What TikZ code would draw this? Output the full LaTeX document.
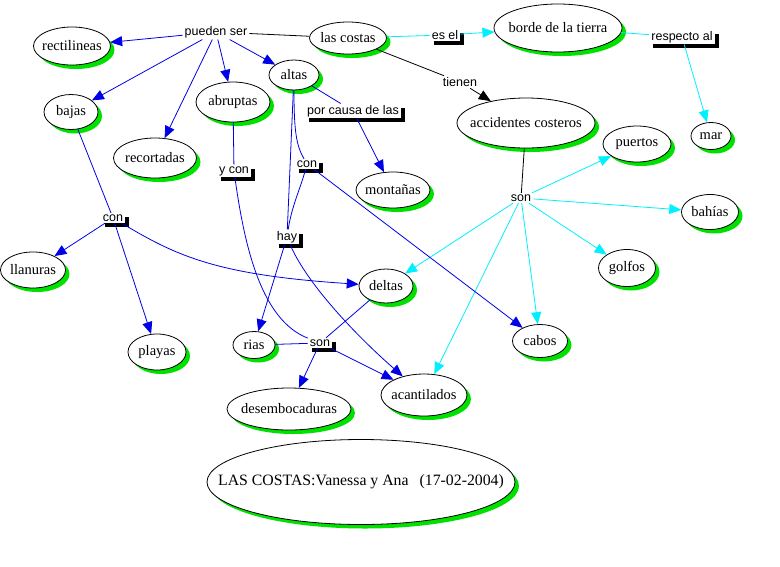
\documentclass[tikz,border=0pt]{standalone}
\usepackage{fontspec}
\setmainfont{Liberation Serif}
\setsansfont{Liberation Sans}
\usetikzlibrary{shapes.geometric,shadows,arrows.meta}
\definecolor{cgreen}{RGB}{0,225,0}
\definecolor{cblue}{RGB}{0,0,230}
\definecolor{ccyan}{RGB}{0,240,255}
\newcommand\ctext[1]{\makebox[0pt]{#1}}
\begin{document}
\begin{tikzpicture}[x=1pt,y=-1pt,
  concept/.style={ellipse, draw=black, line width=0.8pt, fill=white, inner sep=0pt,
    font=\fontsize{14.5}{16}\selectfont,
    general shadow={fill=cgreen, shadow xshift=4pt, shadow yshift=-4pt}},
  lnk/.style={font=\sffamily\fontsize{12.5}{14}\selectfont, inner xsep=2pt, inner ysep=1.5pt, fill=white},
  slnk/.style={lnk, general shadow={fill=black, shadow xshift=4pt, shadow yshift=-4pt}},
  tip/.style={-{Triangle[length=12pt,width=10pt]}},
  bl/.style={draw=cblue, line width=0.8pt},
  bla/.style={bl, tip, cblue},
  cy/.style={draw=ccyan, line width=0.8pt},
  cya/.style={cy, tip, ccyan},
  bk/.style={draw=black, line width=0.8pt},
  bka/.style={bk, tip}
]
\fill[white] (0,0) rectangle (780,566);
\useasboundingbox (0,0) rectangle (780,566);

% concepts
\node[concept, minimum width=77pt, minimum height=38pt] (rect) at (72,46) {\ctext{rectilineas}};
\node[concept, minimum width=54pt, minimum height=35pt] (bajas) at (71,112) {\ctext{bajas}};
\node[concept, minimum width=83pt, minimum height=40pt] (recort) at (155,158) {\ctext{recortadas}};
\node[concept, minimum width=74pt, minimum height=40pt] (abrup) at (233,102) {\ctext{abruptas}};
\node[concept, minimum width=50pt, minimum height=30pt] (altas) at (294,75) {\ctext{altas}};
\node[concept, minimum width=77pt, minimum height=32pt] (costas) at (348,38) {\ctext{las costas}};
\node[concept, minimum width=128pt, minimum height=48pt] (borde) at (558,28) {\ctext{borde de la tierra}};
\node[concept, minimum width=40pt, minimum height=27pt] (mar) at (711,136) {\ctext{mar}};
\node[concept, minimum width=138pt, minimum height=50pt] (accid) at (526,123) {\ctext{accidentes costeros}};
\node[concept, minimum width=68pt, minimum height=36pt] (puertos) at (637,144) {\ctext{puertos}};
\node[concept, minimum width=74pt, minimum height=36pt] (montanas) at (393,190) {\ctext{montañas}};
\node[concept, minimum width=65pt, minimum height=36pt] (llanuras) at (33,270) {\ctext{llanuras}};
\node[concept, minimum width=58pt, minimum height=36pt] (playas) at (157,352) {\ctext{playas}};
\node[concept, minimum width=42pt, minimum height=27pt] (rias) at (254,345) {\ctext{rias}};
\node[concept, minimum width=54pt, minimum height=34pt] (deltas) at (386,286) {\ctext{deltas}};
\node[concept, minimum width=124pt, minimum height=42pt] (desemb) at (289,409) {\ctext{desembocaduras}};
\node[concept, minimum width=86pt, minimum height=42pt] (acant) at (424,395) {\ctext{acantilados}};
\node[concept, minimum width=55pt, minimum height=33pt] (cabos) at (540,341) {\ctext{cabos}};
\node[concept, minimum width=57pt, minimum height=35pt] (bahias) at (710,212) {\ctext{bahías}};
\node[concept, minimum width=57pt, minimum height=37pt] (golfos) at (627,268) {\ctext{golfos}};
\node[concept, minimum width=308pt, minimum height=85pt, font=\fontsize{15.8}{18}\selectfont] (title) at (361,482) {\ctext{LAS COSTAS:Vanessa y Ana\hspace{11pt}(17-02-2004)}};

% linking phrases
\node[lnk] (pueden) at (216,32) {pueden ser};
\node[slnk] (esel) at (445,35) {es el};
\node[slnk] (respecto) at (682,37) {respecto al};
\node[lnk] (tienen) at (460,82) {tienen};
\node[lnk] (son1) at (521,198) {son};
\node[slnk] (porcausa) at (353,111) {por causa de las};
\node[slnk] (con2) at (307,164) {con};
\node[slnk] (ycon) at (234,171) {y con};
\node[slnk] (hay) at (287,237) {hay};
\node[slnk] (con1) at (113,218) {con};
\node[slnk] (son2) at (320,343) {son};

% connectors
\draw[bk] (costas) -- (pueden);
\draw[bla] (pueden) -- (rect);
\draw[bla] (pueden) -- (bajas);
\draw[bla] (pueden) -- (recort);
\draw[bla] (pueden) -- (abrup);
\draw[bla] (pueden) -- (altas);

\draw[cy] (costas) -- (esel);
\draw[cya] (esel) -- (borde);
\draw[cy] (borde) -- (respecto);
\draw[cya] (respecto) -- (mar);

\draw[bk] (costas) -- (tienen);
\draw[bka] (tienen) -- (accid);
\draw[bk] (accid) -- (son1);
\draw[cya] (son1) -- (puertos);
\draw[cya] (son1) -- (bahias);
\draw[cya] (son1) -- (golfos);
\draw[cya] (son1) -- (cabos);
\draw[cya] (son1) -- (acant);
\draw[cya] (son1) -- (deltas);

\draw[bl] (altas) -- (porcausa);
\draw[bla] (porcausa) -- (montanas);
\draw[bl] (altas) .. controls (294,130) and (296,145) .. (con2);
\draw[bl] (con2) .. controls (300,190) and (292,205) .. (hay);
\draw[bl] (altas) -- (hay);
\draw[bla] (con2) -- (cabos);

\draw[bl] (abrup) -- (ycon);
\draw[bl] (ycon) .. controls (245,250) and (262,320) .. (son2);

\draw[bla] (hay) -- (rias);
\draw[bla] (hay) .. controls (305,280) and (350,330) .. (acant);

\draw[bl] (son2) -- (rias);
\draw[bl] (son2) -- (deltas);
\draw[bla] (son2) -- (desemb);
\draw[bla] (son2) -- (acant);

\draw[bl] (bajas) -- (con1);
\draw[bla] (con1) -- (llanuras);
\draw[bla] (con1) -- (playas);
\draw[bla] (con1) .. controls (175,255) and (215,275) .. (deltas);
\end{tikzpicture}
\end{document}
